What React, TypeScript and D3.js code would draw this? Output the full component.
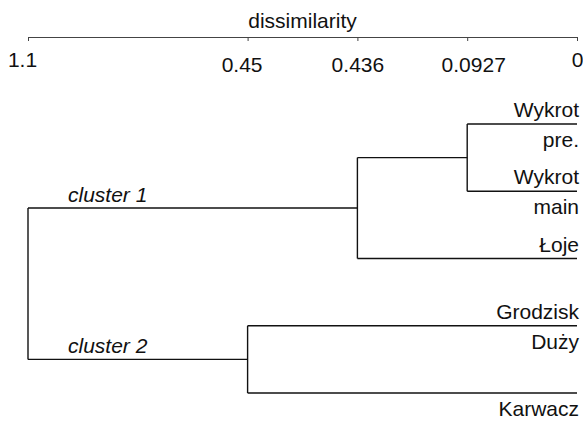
import React, { useRef, useEffect } from "react";
import * as d3 from "d3";

// dissimilarity levels shown on the axis, with their slot on the (rank-based) axis
const tickLabels = ["1.1", "0.45", "0.436", "0.0927", "0"];
const tickRanks = [5, 3, 2, 1, 0];

// leaves, top to bottom: text above and below each leaf line
const leafIds = ["wp", "wm", "lo", "gd", "ka"];
const leafAbove = ["Wykrot", "Wykrot", "Łoje", "Grodzisk", ""];
const leafBelow = ["pre.", "main", "", "Duży", "Karwacz"];

// merges: [id, rank of merge height, children]
const merges: [string, number, string[]][] = [
  ["w", 1, ["wp", "wm"]],
  ["c1", 2, ["w", "lo"]],
  ["c2", 3, ["gd", "ka"]],
  ["root", 5, ["c1", "c2"]],
];
const clusterLabels = [
  { node: "c1", text: "cluster 1" },
  { node: "c2", text: "cluster 2" },
];

const W = 583;
const H = 424;
const FONT = "'Liberation Sans', Arial, Helvetica, sans-serif";

const Dendrogram = () => {
  const ref = useRef<SVGSVGElement>(null);

  useEffect(() => {
    const svg = d3.select(ref.current);
    svg.selectAll("*").remove();

    const x = d3.scaleLinear().domain([5, 0]).range([28, 577]);
    const y = d3.scalePoint().domain(leafIds).range([124, 393]);

    // node positions
    const pos: Record<string, { x: number; y: number }> = {};
    leafIds.forEach((id) => (pos[id] = { x: x(0), y: y(id)! }));
    merges.forEach(([id, r, kids]) => {
      const ys = kids.map((k) => pos[k].y);
      pos[id] = { x: x(r), y: (d3.min(ys)! + d3.max(ys)!) / 2 };
    });

    // axis
    const axis = d3
      .axisBottom(x)
      .tickValues(tickRanks)
      .tickFormat((d, i) => tickLabels[i])
      .tickSizeInner(4)
      .tickSizeOuter(0);
    const ga = svg.append("g").attr("transform", "translate(0,37)").call(axis);
    ga.select(".domain").attr("stroke", "#444");
    ga.selectAll(".tick line").attr("stroke", "#444");
    // labels in the original sit a little off their ticks
    const nudge: Record<number, number> = { 5: -6, 3: -6, 2: 0, 1: 6, 0: 0 };
    ga.selectAll(".tick text")
      .attr("font-family", FONT)
      .attr("font-size", 21)
      .attr("fill", "#111")
      .attr("dy", 0)
      .attr("dx", (d: any) => nudge[d] ?? 0)
      .attr("y", (d: any) => (d === 5 || d === 0 ? 30 : 35));

    svg
      .append("text")
      .attr("x", (x(5) + x(0)) / 2)
      .attr("y", 28)
      .attr("text-anchor", "middle")
      .attr("font-family", FONT)
      .attr("font-size", 21)
      .attr("fill", "#111")
      .text("dissimilarity");

    // tree: elbow links
    const g = svg.append("g").attr("fill", "none").attr("stroke", "#111").attr("stroke-width", 1.4);
    merges.forEach(([id, , kids]) => {
      const p = pos[id];
      const ys = kids.map((k) => pos[k].y);
      g.append("line")
        .attr("x1", p.x).attr("x2", p.x)
        .attr("y1", d3.min(ys)!).attr("y2", d3.max(ys)!);
      kids.forEach((k) => {
        g.append("line")
          .attr("x1", p.x).attr("x2", pos[k].x)
          .attr("y1", pos[k].y).attr("y2", pos[k].y);
      });
    });

    // leaf labels
    const lab = svg
      .append("g")
      .attr("font-family", FONT)
      .attr("font-size", 21)
      .attr("fill", "#111")
      .attr("text-anchor", "end");
    leafIds.forEach((id, i) => {
      if (leafAbove[i]) lab.append("text").attr("x", 579).attr("y", pos[id].y - 7).text(leafAbove[i]);
      if (leafBelow[i]) lab.append("text").attr("x", 579).attr("y", pos[id].y + 23).text(leafBelow[i]);
    });

    // cluster labels
    clusterLabels.forEach((c) => {
      svg
        .append("text")
        .attr("x", 68)
        .attr("y", pos[c.node].y - 6)
        .attr("font-family", FONT)
        .attr("font-size", 21)
        .attr("font-style", "italic")
        .attr("fill", "#111")
        .text(c.text);
    });
  }, []);

  return (
    <svg
      ref={ref}
      width={W}
      height={H}
      style={{ position: "absolute", left: 0, top: 0, background: "#fff" }}
    ></svg>
  );
};

export default function App() {
  return <Dendrogram />;
}
